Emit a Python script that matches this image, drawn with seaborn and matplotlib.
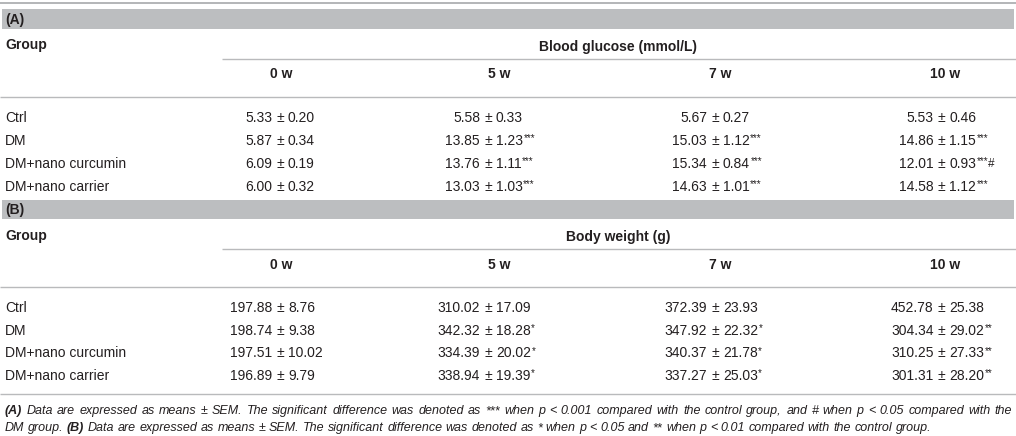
import matplotlib
matplotlib.use("Agg")
import matplotlib.pyplot as plt
import seaborn as sns
import pandas as pd

# ---------------- data ----------------
groups = ["Ctrl", "DM", "DM+nano curcumin", "DM+nano carrier"]
weeks = ["0 w", "5 w", "7 w", "10 w"]

glucose_mean = [[5.33, 5.58, 5.67, 5.53],
                [5.87, 13.85, 15.03, 14.86],
                [6.09, 13.76, 15.34, 12.01],
                [6.00, 13.03, 14.63, 14.58]]
glucose_sem = [[0.20, 0.33, 0.27, 0.46],
               [0.34, 1.23, 1.12, 1.15],
               [0.19, 1.11, 0.84, 0.93],
               [0.32, 1.03, 1.01, 1.12]]
glucose_sig = [["", "", "", ""],
               ["", "***", "***", "***"],
               ["", "***", "***", "***#"],
               ["", "***", "***", "***"]]

weight_mean = [[197.88, 310.02, 372.39, 452.78],
               [198.74, 342.32, 347.92, 304.34],
               [197.51, 334.39, 340.37, 310.25],
               [196.89, 338.94, 337.27, 301.31]]
weight_sem = [[8.76, 17.09, 23.93, 25.38],
              [9.38, 18.28, 22.32, 29.02],
              [10.02, 20.02, 21.78, 27.33],
              [9.79, 19.39, 25.03, 28.20]]
weight_sig = [["", "", "", ""],
              ["", "*", "*", "**"],
              ["", "*", "*", "**"],
              ["", "*", "*", "**"]]

panel_labels = ["(A)", "(B)"]
measure_titles = ["Blood glucose (mmol/L)", "Body weight (g)"]
group_header = "Group"

foot_line1 = [("(A)", "bold"), ("Data are expressed as means ± SEM. The significant difference was denoted as *** when p < 0.001 compared with the control group, and # when p < 0.05 compared with the", "normal")]
foot_line2 = [("DM group.", "normal"), ("(B)", "bold"), ("Data are expressed as means ± SEM. The significant difference was denoted as * when p < 0.05 and ** when p < 0.01 compared with the control group.", "normal")]

# ---------------- style ----------------
sns.set_theme(style="white")
plt.rcParams["font.family"] = ["Liberation Sans", "DejaVu Sans"]

TXT = "#231f20"
LINE = "#b9babc"
BAND = "#bcbec0"
FS = 10

W, H = 1016, 436
fig = plt.figure(figsize=(W / 100, H / 100), dpi=100)
ax = fig.add_axes([0, 0, 1, 1])
ax.set_xlim(0, W)
ax.set_ylim(H, 0)
ax.axis("off")
sns.despine(ax=ax, left=True, bottom=True)
renderer = fig.canvas.get_renderer()


def bbox_of(t):
    return t.get_window_extent(renderer).transformed(ax.transData.inverted())


def right_end(t):
    bb = bbox_of(t)
    return max(bb.x0, bb.x1)


def width_of(t):
    bb = bbox_of(t)
    return abs(bb.x1 - bb.x0)


PX = FS * 100 / 72.0
SPACE = 0.278 * PX
PM_W = 0.584 * PX

col_pm_x = [280, 488, 715, 941.5]
head_x = [281, 499, 720, 945]
span_center = 618


def hline(y, x0=0, x1=W, color=LINE, lw=1.0):
    ax.plot([x0, x1], [y, y], color=color, lw=lw, solid_capstyle="butt")


def band(y0, y1, label):
    ax.fill_between([2, W - 2], [y0, y0], [y1, y1], color=BAND, lw=0)
    ax.text(5, (y0 + y1) / 2 + 5, label, ha="left", va="baseline",
            fontsize=FS, fontweight="bold", color=TXT)


def cell(xpm, yc, mean, sem, sig):
    base = yc + 5
    ax.text(xpm, base, "±", ha="center", va="baseline", fontsize=FS, color=TXT)
    ax.text(xpm - PM_W / 2 - SPACE, base, f"{mean:.2f}", ha="right",
            va="baseline", fontsize=FS, color=TXT)
    t = ax.text(xpm + PM_W / 2 + SPACE, base, f"{sem:.2f}", ha="left",
                va="baseline", fontsize=FS, color=TXT)
    if sig:
        xe = right_end(t) + 0.5
        stars = sig.rstrip("#")
        if stars:
            ts = ax.text(xe, base - 3.5, stars, ha="left", va="baseline",
                         fontsize=7, color=TXT)
            xe = right_end(ts) - 0.5
        if sig.endswith("#"):
            ax.text(xe, base - 1.0, "#", ha="left", va="baseline",
                    fontsize=8.5, color=TXT)


def table(top, means, sems, sigs, panel, title, row_pitch):
    band(top, top + 19.5, panel)
    yg = top + 35
    ax.text(5, yg + 5, group_header, ha="left", va="baseline", fontsize=FS,
            fontweight="bold", color=TXT)
    ax.text(span_center, yg + 6, title, ha="center", va="baseline",
            fontsize=FS, fontweight="bold", color=TXT)
    hline(top + 49.5, x0=222)
    for j, wk in enumerate(weeks):
        ax.text(head_x[j], top + 64 + 5, wk, ha="center", va="baseline",
                fontsize=FS, fontweight="bold", color=TXT)
    hline(top + 87.5)
    y0 = top + 107.5
    for i, g in enumerate(groups):
        yc = y0 + i * row_pitch
        ax.text(5, yc + 5, g, ha="left", va="baseline", fontsize=FS, color=TXT)
        for j in range(len(weeks)):
            cell(col_pm_x[j], yc, means[i][j], sems[i][j], sigs[i][j])


hline(3, color="#a7a9ac", lw=1.2)
table(9.5, glucose_mean, glucose_sem, glucose_sig, panel_labels[0], measure_titles[0], 22.9)
table(199.5, weight_mean, weight_sem, weight_sig, panel_labels[1], measure_titles[1], 22.6)
hline(394)


def foot_words(runs):
    words = []
    for text, weight in runs:
        for w in text.split(" "):
            if w:
                words.append((w, weight))
    return words


def make_words(words, y, fs):
    objs = []
    for w, weight in words:
        t = ax.text(0, y + 5, w, ha="left", va="baseline", fontsize=fs,
                    fontstyle="italic", fontweight=weight, color=TXT)
        objs.append(t)
    return objs


def natural_width(objs, fs):
    sp = 0.278 * fs * 100 / 72.0
    return sum(width_of(t) for t in objs) + sp * (len(objs) - 1)


def place_words(objs, x0, fs, x1=None):
    widths = [width_of(t) for t in objs]
    sp = 0.278 * fs * 100 / 72.0
    if x1 is not None:
        sp = (x1 - x0 - sum(widths)) / (len(objs) - 1)
    x = x0
    for t, wd in zip(objs, widths):
        t.set_x(x)
        x += wd + sp


# fit footnote font so the (unjustified) last line has the reference's width
w2 = foot_words(foot_line2)
probe = make_words(w2, 426, FS)
nat = natural_width(probe, FS)
for t in probe:
    t.remove()
FOOT_FS = FS * (930 - 5) / nat

o1 = make_words(foot_words(foot_line1), 409, FOOT_FS)
place_words(o1, 5, FOOT_FS, 1012)
o2 = make_words(w2, 426, FOOT_FS)
place_words(o2, 5, FOOT_FS)

fig.savefig("out.png", dpi=100)
